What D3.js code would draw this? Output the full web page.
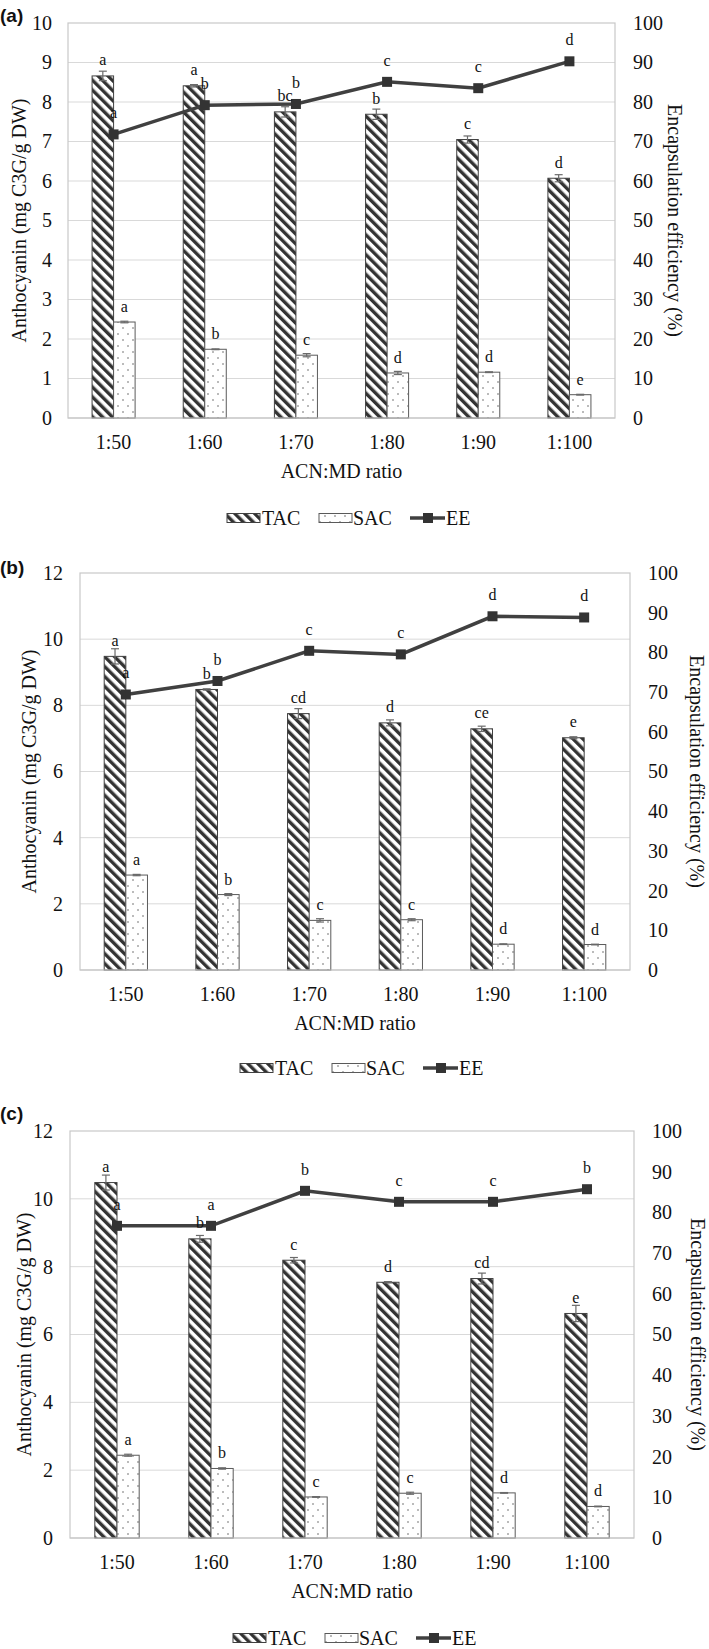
<!DOCTYPE html>
<html>
<head>
<meta charset="utf-8">
<script src="https://cdn.jsdelivr.net/npm/d3@7"></script>
<style>
  html, body { margin: 0; padding: 0; background: #fff; }
  svg { display: block; }
</style>
</head>
<body>
<div id="chart"></div>
<script>
// ---------------- DATA ----------------
const categories = ["1:50", "1:60", "1:70", "1:80", "1:90", "1:100"];
const seriesNames = ["TAC", "SAC", "EE"];
const leftTicksA = [0, 1, 2, 3, 4, 5, 6, 7, 8, 9, 10];
const leftTicksBC = [0, 2, 4, 6, 8, 10, 12];
const rightTicks = [0, 10, 20, 30, 40, 50, 60, 70, 80, 90, 100];

// Panel (a)
const tacA = [8.66, 8.41, 7.75, 7.69, 7.05, 6.07];
const tacErrA = [0.12, 0.03, 0.13, 0.13, 0.09, 0.09];
const sacA = [2.43, 1.74, 1.59, 1.14, 1.16, 0.59];
const sacErrA = [0.02, 0.01, 0.04, 0.04, 0.01, 0.01];
const eeA = [71.8, 79.2, 79.5, 85.1, 83.5, 90.3];
const tacLetA = ["a", "a", "bc", "b", "c", "d"];
const sacLetA = ["a", "b", "c", "d", "d", "e"];
const eeLetA = ["a", "b", "b", "c", "c", "d"];

// Panel (b)
const tacB = [9.48, 8.48, 7.75, 7.47, 7.29, 7.02];
const tacErrB = [0.23, 0.02, 0.15, 0.09, 0.08, 0.03];
const sacB = [2.87, 2.28, 1.50, 1.52, 0.78, 0.77];
const sacErrB = [0.02, 0.03, 0.05, 0.03, 0.01, 0.01];
const eeB = [69.4, 72.8, 80.4, 79.5, 89.1, 88.8];
const tacLetB = ["a", "b", "cd", "d", "ce", "e"];
const sacLetB = ["a", "b", "c", "c", "d", "d"];
const eeLetB = ["a", "b", "c", "c", "d", "d"];

// Panel (c)
const tacC = [10.48, 8.82, 8.19, 7.54, 7.65, 6.62];
const tacErrC = [0.22, 0.10, 0.08, 0.02, 0.16, 0.24];
const sacC = [2.44, 2.05, 1.21, 1.32, 1.33, 0.93];
const sacErrC = [0.03, 0.02, 0.01, 0.03, 0.01, 0.01];
const eeC = [76.7, 76.7, 85.3, 82.6, 82.6, 85.7];
const tacLetC = ["a", "b", "c", "d", "cd", "e"];
const sacLetC = ["a", "b", "c", "c", "d", "d"];
const eeLetC = ["a", "a", "b", "c", "c", "b"];

// ---------------- DRAWING ----------------
const W = 709, H = 1649;
const SERIF = "'Liberation Serif', 'Times New Roman', serif";
const SANS = "'Liberation Sans', Arial, sans-serif";
const INK = "#404040";

const svg = d3.select("#chart").append("svg")
  .attr("width", W).attr("height", H)
  .attr("viewBox", `0 0 ${W} ${H}`);

const defs = svg.append("defs");
// Diagonal stripes "\\\" for TAC
const pDiag = defs.append("pattern")
  .attr("id", "diag").attr("patternUnits", "userSpaceOnUse")
  .attr("width", 7).attr("height", 7)
  .attr("patternTransform", "rotate(-45)");
pDiag.append("rect").attr("width", 7).attr("height", 7).attr("fill", "#fff");
pDiag.append("rect").attr("x", 0).attr("y", 0).attr("width", 3.4).attr("height", 7).attr("fill", "#333");

// Sparse dots for SAC
const pDots = defs.append("pattern")
  .attr("id", "dots").attr("patternUnits", "userSpaceOnUse")
  .attr("width", 10).attr("height", 12);
pDots.append("rect").attr("width", 10).attr("height", 12).attr("fill", "#fff");
pDots.append("circle").attr("cx", 3).attr("cy", 4).attr("r", 0.75).attr("fill", "#555");
pDots.append("circle").attr("cx", 8).attr("cy", 10).attr("r", 0.75).attr("fill", "#555");

const panels = [
  { tag: "(a)", tac: tacA, tacErr: tacErrA, sac: sacA, sacErr: sacErrA, ee: eeA,
    tacLet: tacLetA, sacLet: sacLetA, eeLet: eeLetA, leftTicks: leftTicksA,
    box: { l: 68, r: 615, t: 23, b: 418 }, tagY: 15, lTitleX: 19, rTitleX: 675,
    lPad: 16, rPad: 18, legX: 227, legY: 518 },
  { tag: "(b)", tac: tacB, tacErr: tacErrB, sac: sacB, sacErr: sacErrB, ee: eeB,
    tacLet: tacLetB, sacLet: sacLetB, eeLet: eeLetB, leftTicks: leftTicksBC,
    box: { l: 80, r: 630, t: 573, b: 970 }, tagY: 567, lTitleX: 29, rTitleX: 697,
    lPad: 17, rPad: 18, legX: 240, legY: 1068 },
  { tag: "(c)", tac: tacC, tacErr: tacErrC, sac: sacC, sacErr: sacErrC, ee: eeC,
    tacLet: tacLetC, sacLet: sacLetC, eeLet: eeLetC, leftTicks: leftTicksBC,
    box: { l: 70, r: 634, t: 1131, b: 1538 }, tagY: 1113, lTitleX: 24, rTitleX: 698,
    lPad: 17, rPad: 18, legX: 233, legY: 1638 }
];

function drawPanel(p) {
  const g = svg.append("g");
  const { l, r, t, b } = p.box;
  const yMax = p.leftTicks[p.leftTicks.length - 1];
  const x = d3.scaleBand().domain(categories).range([l, r]);
  const y = d3.scaleLinear().domain([0, yMax]).range([b, t]);
  const yR = d3.scaleLinear().domain([0, 100]).range([b, t]);
  const bw = x.bandwidth() * 0.236;
  const cx = c => x(c) + x.bandwidth() / 2;

  // gridlines
  g.append("g").selectAll("line").data(p.leftTicks.filter(v => v > 0 && v < yMax))
    .join("line")
    .attr("x1", l).attr("x2", r)
    .attr("y1", d => y(d)).attr("y2", d => y(d))
    .attr("stroke", "#d9d9d9").attr("stroke-width", 1);

  // plot frame
  g.append("rect").attr("x", l).attr("y", t).attr("width", r - l).attr("height", b - t)
    .attr("fill", "none").attr("stroke", "#c8c8c8").attr("stroke-width", 1.2);

  // TAC bars
  g.append("g").selectAll("rect").data(categories).join("rect")
    .attr("x", (c) => cx(c) - bw)
    .attr("y", (c, i) => y(p.tac[i]))
    .attr("width", bw)
    .attr("height", (c, i) => b - y(p.tac[i]))
    .attr("fill", "url(#diag)").attr("stroke", INK).attr("stroke-width", 1);

  // SAC bars
  g.append("g").selectAll("rect").data(categories).join("rect")
    .attr("x", (c) => cx(c))
    .attr("y", (c, i) => y(p.sac[i]))
    .attr("width", bw)
    .attr("height", (c, i) => b - y(p.sac[i]))
    .attr("fill", "url(#dots)").attr("stroke", "#5a5a5a").attr("stroke-width", 1);

  // error bars
  function errBars(vals, errs, offset) {
    const eg = g.append("g").attr("stroke", "#6a6a6a").attr("stroke-width", 1.2);
    categories.forEach((c, i) => {
      const xc = cx(c) + offset;
      const y1 = y(vals[i] + errs[i]), y2 = y(vals[i] - errs[i]);
      eg.append("line").attr("x1", xc).attr("x2", xc).attr("y1", y1).attr("y2", y2);
      eg.append("line").attr("x1", xc - 4).attr("x2", xc + 4).attr("y1", y1).attr("y2", y1);
      eg.append("line").attr("x1", xc - 4).attr("x2", xc + 4).attr("y1", y2).attr("y2", y2);
    });
  }
  errBars(p.tac, p.tacErr, -bw / 2);
  errBars(p.sac, p.sacErr, bw / 2);

  // EE line
  const line = d3.line().x((d, i) => cx(categories[i])).y(d => yR(d));
  g.append("path").datum(p.ee).attr("d", line)
    .attr("fill", "none").attr("stroke", INK).attr("stroke-width", 3.5);
  g.append("g").selectAll("rect").data(p.ee).join("rect")
    .attr("x", (d, i) => cx(categories[i]) - 5)
    .attr("y", d => yR(d) - 5)
    .attr("width", 10).attr("height", 10)
    .attr("fill", "#333");

  // letters
  const lg = g.append("g").attr("font-family", SERIF).attr("font-size", 16)
    .attr("fill", "#111").attr("text-anchor", "middle");
  categories.forEach((c, i) => {
    lg.append("text").attr("x", cx(c) - bw / 2).attr("y", y(p.tac[i]) - 10.5).text(p.tacLet[i]);
    lg.append("text").attr("x", cx(c) + bw / 2).attr("y", y(p.sac[i]) - 10).text(p.sacLet[i]);
    lg.append("text").attr("x", cx(c)).attr("y", yR(p.ee[i]) - 16).text(p.eeLet[i]);
  });

  // axes
  const axL = g.append("g").attr("transform", `translate(${l},0)`)
    .call(d3.axisLeft(y).tickValues(p.leftTicks).tickSize(0).tickPadding(p.lPad));
  const axR = g.append("g").attr("transform", `translate(${r},0)`)
    .call(d3.axisRight(yR).tickValues(rightTicks).tickSize(0).tickPadding(p.rPad));
  const axB = g.append("g").attr("transform", `translate(0,${b})`)
    .call(d3.axisBottom(x).tickSize(0).tickPadding(17));
  [axL, axR, axB].forEach(a => {
    a.select(".domain").remove();
    a.selectAll("text").attr("font-family", SERIF).attr("font-size", 20).attr("fill", "#111");
  });
  // bottom axis line
  g.append("line").attr("x1", l).attr("x2", r).attr("y1", b).attr("y2", b)
    .attr("stroke", "#c8c8c8").attr("stroke-width", 1.2);

  // titles
  const midY = (t + b) / 2;
  g.append("text").attr("transform", `translate(${p.lTitleX},${midY}) rotate(-90)`)
    .attr("text-anchor", "middle").attr("dominant-baseline", "central")
    .attr("font-family", SERIF).attr("font-size", 20).attr("fill", "#111")
    .text("Anthocyanin (mg C3G/g DW)");
  g.append("text").attr("transform", `translate(${p.rTitleX},${midY}) rotate(90)`)
    .attr("text-anchor", "middle").attr("dominant-baseline", "central")
    .attr("font-family", SERIF).attr("font-size", 20).attr("fill", "#111")
    .text("Encapsulation efficiency (%)");
  g.append("text").attr("x", (l + r) / 2).attr("y", b + 53 + 7)
    .attr("text-anchor", "middle")
    .attr("font-family", SERIF).attr("font-size", 20).attr("fill", "#111")
    .text("ACN:MD ratio");

  // panel tag
  g.append("text").attr("x", 0).attr("y", p.tagY + 7)
    .attr("font-family", SANS).attr("font-weight", "bold").attr("font-size", 19)
    .attr("fill", "#111").text(p.tag);

  // legend
  const leg = g.append("g").attr("transform", `translate(${p.legX},${p.legY})`)
    .attr("font-family", SERIF).attr("font-size", 20).attr("fill", "#111");
  leg.append("rect").attr("x", 0).attr("y", -4.5).attr("width", 33).attr("height", 9)
    .attr("fill", "url(#diag)").attr("stroke", INK).attr("stroke-width", 1);
  leg.append("text").attr("x", 35).attr("y", 7).text(seriesNames[0]);
  leg.append("rect").attr("x", 92).attr("y", -4.5).attr("width", 33).attr("height", 9)
    .attr("fill", "url(#dots)").attr("stroke", "#5a5a5a").attr("stroke-width", 1);
  leg.append("text").attr("x", 126).attr("y", 7).text(seriesNames[1]);
  leg.append("line").attr("x1", 183).attr("x2", 218).attr("y1", 0).attr("y2", 0)
    .attr("stroke", INK).attr("stroke-width", 3.5);
  leg.append("rect").attr("x", 196).attr("y", -5).attr("width", 10).attr("height", 10).attr("fill", "#333");
  leg.append("text").attr("x", 219).attr("y", 7).text(seriesNames[2]);
}

panels.forEach(drawPanel);
</script>
</body>
</html>
